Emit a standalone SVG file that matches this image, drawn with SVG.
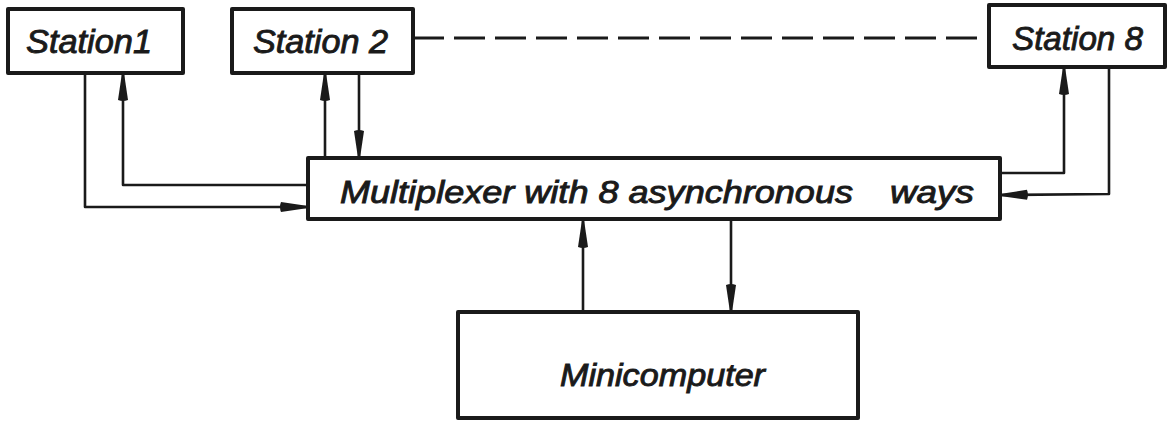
<svg xmlns="http://www.w3.org/2000/svg" width="1167" height="422" viewBox="0 0 1167 422">
<style>
.box{fill:#fff;stroke:#1a1a1a;stroke-width:4;stroke-linejoin:round}
.lbl{font-family:"Liberation Sans",Arial,sans-serif;font-style:italic;fill:#1a1a1a;stroke:#1a1a1a;stroke-width:0.9}
.ln{fill:none;stroke:#1a1a1a;stroke-width:2.6;stroke-linejoin:round}
.dash{fill:none;stroke:#1a1a1a;stroke-width:3;stroke-dasharray:31 10}
</style>
<defs>
<marker id="arr" viewBox="0 0 28 12" refX="27" refY="6" markerWidth="28" markerHeight="12" markerUnits="userSpaceOnUse" orient="auto">
<path d="M1,1 Q-1,6 1,11 L28,7 L28,5 Z" fill="#1a1a1a"/>
</marker>
</defs>
<rect width="1167" height="422" fill="#fff"/>
<g id="connectors">
<path class="dash" d="M413,38 H989"/>
<polyline class="ln" points="85,73 85,207 307,207" marker-end="url(#arr)"/>
<polyline class="ln" points="308,185 123,185 123,74" marker-end="url(#arr)"/>
<polyline class="ln" points="325,158 325,74" marker-end="url(#arr)"/>
<polyline class="ln" points="359,73 359,157" marker-end="url(#arr)"/>
<polyline class="ln" points="1000,173 1064,173 1064,68" marker-end="url(#arr)"/>
<polyline class="ln" points="1109,67 1109,194 1001,195" marker-end="url(#arr)"/>
<polyline class="ln" points="583,312 583,221" marker-end="url(#arr)"/>
<polyline class="ln" points="731,219 731,311" marker-end="url(#arr)"/>
</g>
<g id="station1">
<rect class="box" x="8" y="9" width="175" height="64"/>
<text class="lbl" x="26" y="53" font-size="33" textLength="126" lengthAdjust="spacingAndGlyphs">Station1</text>
</g>
<g id="station2">
<rect class="box" x="232" y="9" width="181" height="64"/>
<text class="lbl" x="253" y="53" font-size="33" textLength="135" lengthAdjust="spacingAndGlyphs">Station 2</text>
</g>
<g id="station8">
<rect class="box" x="989" y="5" width="176" height="62"/>
<text class="lbl" x="1012" y="50" font-size="33" textLength="131" lengthAdjust="spacingAndGlyphs">Station 8</text>
</g>
<g id="multiplexer">
<rect class="box" x="308" y="158" width="692" height="61"/>
<text class="lbl" y="203" font-size="31"><tspan x="340" textLength="513" lengthAdjust="spacingAndGlyphs">Multiplexer with 8 asynchronous</tspan><tspan x="890" textLength="84" lengthAdjust="spacingAndGlyphs">ways</tspan></text>
</g>
<g id="minicomputer">
<rect class="box" x="458" y="312" width="400" height="106"/>
<text class="lbl" x="560" y="386" font-size="31" textLength="205" lengthAdjust="spacingAndGlyphs">Minicomputer</text>
</g>
</svg>
